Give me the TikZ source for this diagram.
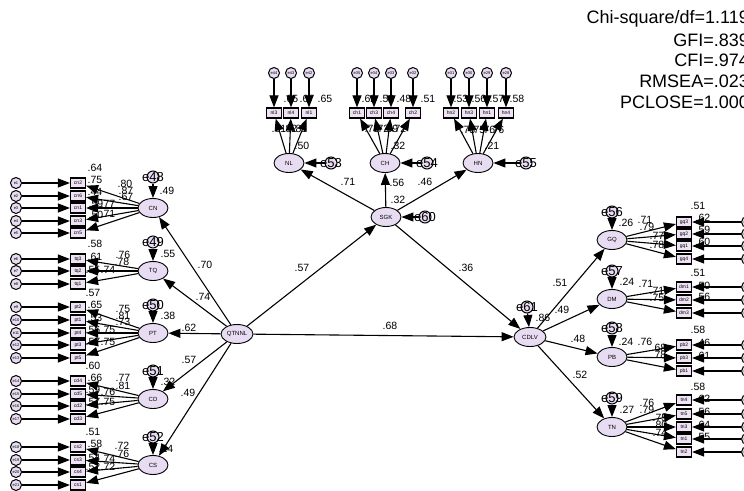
\documentclass[tikz,border=0pt]{standalone}
\usepackage{fontspec}
\setmainfont{Liberation Sans}
\usetikzlibrary{arrows.meta,shapes.geometric}
\definecolor{latfill}{RGB}{232,220,242}
\definecolor{boxfill}{RGB}{238,226,244}
\begin{document}
\begin{tikzpicture}[x=1pt,y=-1pt,
  lat/.style={ellipse, draw, line width=0.9pt, fill=latfill, minimum width=30pt,
    minimum height=19pt, inner sep=0pt, font=\fontsize{6}{6}\selectfont},
  ind/.style={rectangle, draw, line width=1.2pt, fill=boxfill, minimum width=15pt,
    minimum height=10pt, inner sep=0pt, font=\fontsize{5}{5}\selectfont},
  err/.style={circle, draw, line width=1pt, fill=latfill, minimum size=11pt,
    inner sep=0pt, font=\fontsize{4}{4}\selectfont},
  res/.style={circle, draw, line width=1pt, fill=latfill, minimum size=12pt, inner sep=0pt},
  reslbl/.style={font=\fontsize{13}{13}\selectfont, inner sep=0pt},
  arr/.style={-{Triangle[length=12pt,width=9pt]}, line width=1.1pt},
  val/.style={font=\fontsize{10.5}{11}\selectfont, inner sep=0pt},
  fitstat/.style={font=\fontsize{18}{18}\selectfont, anchor=east, inner sep=0pt}]
\useasboundingbox (0,0) rectangle (744,490);
\fill[white] (0,0) rectangle (744,490);

% latent variables
\node[lat] (CN) at (153,208) {CN};
\node[lat] (TQ) at (153,271) {TQ};
\node[lat] (PT) at (153,333) {PT};
\node[lat] (CD) at (153,399) {CD};
\node[lat] (CS) at (153,465) {CS};
\node[lat, minimum width=32pt] (QTNNL) at (237,334) {QTNNL};
\node[lat] (SGK) at (386,217) {SGK};
\node[lat] (NL) at (289,163) {NL};
\node[lat] (CH) at (385,163) {CH};
\node[lat] (HN) at (478,163) {HN};
\node[lat, minimum width=32pt] (CDLV) at (530,337) {CDLV};
\node[lat] (GQ) at (612,240) {GQ};
\node[lat] (DM) at (612,299) {DM};
\node[lat] (PB) at (612,357) {PB};
\node[lat] (TN) at (612,427) {TN};

% structural paths
\foreach \t in {CN,TQ,PT,CD,CS} \draw[arr] (QTNNL) -- (\t);
\draw[arr] (QTNNL) -- (SGK);
\draw[arr] (QTNNL) -- (CDLV);
\draw[arr] (SGK) -- (CDLV);
\foreach \t in {NL,CH,HN} \draw[arr] (SGK) -- (\t);
\foreach \t in {GQ,DM,PB,TN} \draw[arr] (CDLV) -- (\t);

% left measurement models
\foreach \n/\y/\e/\l in {cn2/183/1/CN,cn6/196/2/CN,cn1/208/3/CN,cn3/221/4/CN,cn5/233/5/CN,
  tq3/259/6/TQ,tq2/271/7/TQ,tq1/284/8/TQ,
  pt2/307/9/PT,pt1/320/10/PT,pt4/333/11/PT,pt3/345/12/PT,pt5/358/13/PT,
  cd4/381/14/CD,cd5/394/15/CD,cd2/406/16/CD,cd3/419/17/CD,
  cs2/447/18/CS,cs3/460/19/CS,cs4/472/20/CS,cs1/485/21/CS}{
  \node[ind] (\n) at (78,\y) {\n};
  \node[err] (e\e) at (16,\y) {e\e};
  \draw[arr] (e\e) -- (\n);
  \draw[arr] (\l) -- (\n);
}

% top measurement models
\foreach \n/\x/\e/\l in {nl3/274/44/NL,nl4/291/43/NL,nl1/309/42/NL,
  ch1/357/35/CH,ch3/374/34/CH,ch4/391/33/CH,ch2/413/32/CH,
  hn2/451/31/HN,hn3/469/30/HN,hn1/487/29/HN,hn4/506/28/HN}{
  \node[ind] (\n) at (\x,113) {\n};
  \node[err] (e\e) at (\x,73) {e\e};
  \draw[arr] (e\e) -- (\n);
  \draw[arr] (\l) -- (\n);
}

% right measurement models
\foreach \n/\y/\e/\l in {gq3/222/22/GQ,gq2/234/23/GQ,gq1/246/24/GQ,gq4/259/25/GQ,
  dm1/287/26/DM,dm2/300/27/DM,dm3/313/36/DM,
  pb2/345/37/PB,pb3/358/38/PB,pb1/371/39/PB,
  tn4/400/40/TN,tn5/414/41/TN,tn3/427/45/TN,tn1/439/46/TN,tn2/452/47/TN}{
  \node[ind] (\n) at (684,\y) {\n};
  \node[err] (e\e) at (747,\y) {e\e};
  \draw[arr] (e\e) -- (\n);
  \draw[arr] (\l) -- (\n);
}

% residuals of latent variables
\foreach \r/\x/\y/\t in {48/153/177/CN,49/153/242/TQ,50/153/305/PT,51/153/371/CD,52/153/437/CS,
  56/612/212/GQ,57/612/271/DM,58/612/328/PB,59/612/398/TN,61/527/307/CDLV,
  53/331/163/NL,54/427/163/CH,55/526/163/HN,60/425/217/SGK}{
  \node[res, label={[reslbl]center:e\r}] (e\r) at (\x,\y) {};
  \draw[arr] (e\r) -- (\t);
}

% estimates
\foreach \v/\x/\y [count=\i] in {
  .64/95/168,.75/95/180,.44/95/192,.59/96/204,.50/96/215,.80/125/184,.87/126/191,.67/126/197,.77/108/204,.71/108/214,
  .58/95/244,.61/95/257,.55/93/270,.76/123/255,.78/122/262,.74/108/270,
  .57/93/293,.65/95/305,.53/95/318,.56/93/330,.57/93/342,.75/123/309,.81/123/316,.73/123/322,.75/108/330,.75/108/342,
  .60/93/366,.66/95/378,.59/93/390,.57/93/402,.77/123/378,.81/123/386,.76/108/392,.75/108/402,
  .51/93/432,.58/95/444,.54/93/458,.52/93/467,.72/122/446,.76/122/454,.74/108/459,.72/108/467,
  .49/167/191,.55/168/254,.38/168/316,.32/168/382,.24/166/449,
  .70/205/265,.74/203/297,.62/189/328,.57/189/360,.49/188/393,
  .57/302/268,.68/390/326,.36/466/268,.71/348/182,.56/397/183,.46/425/182,.32/398/200,
  .50/302/146,.32/398/146,.21/492/146,
  .65/291/99,.67/307/99,.65/325/99,.81/279/129,.82/290/129,.81/300/129,
  .62/369/99,.52/387/99,.48/404/99,.51/428/99,.78/372/129,.72/382/129,.69/391/129,.72/399/129,
  .53/461/99,.56/479/99,.57/497/99,.58/517/99,.73/468/130,.75/478/130,.76/488/130,.76/497/130,
  .86/543/318,.51/560/283,.49/562/310,.48/578/339,.52/580/375,
  .26/626/223,.71/645/220,.79/647/227,.77/657/236,.78/657/245,.51/698/206,.62/703/218,.59/703/230,.60/703/242,
  .24/627/282,.71/646/284,.71/657/291,.75/657/298,.51/698/273,.50/703/286,.56/703/297,
  .24/626/342,.76/645/342,.68/659/348,.78/659/355,.58/698/330,.46/703/343,.61/703/356,
  .27/627/410,.76/647/403,.79/647/410,.75/660/418,.80/660/425,.74/660/433,.58/698/387,.62/703/399,.56/703/412,.64/703/425,.55/703/437}
  \node[val] (v\i) at (\x,\y) {\v};

% fit indices
\node[fitstat] (chi) at (749,19) {Chi-square/df=1.119};
\node[fitstat] (gfi) at (749,40) {GFI=.839};
\node[fitstat] (cfi) at (749,60) {CFI=.974};
\node[fitstat] (rmsea) at (749,81) {RMSEA=.023};
\node[fitstat] (pclose) at (749,102) {PCLOSE=1.000};
\end{tikzpicture}
\end{document}
